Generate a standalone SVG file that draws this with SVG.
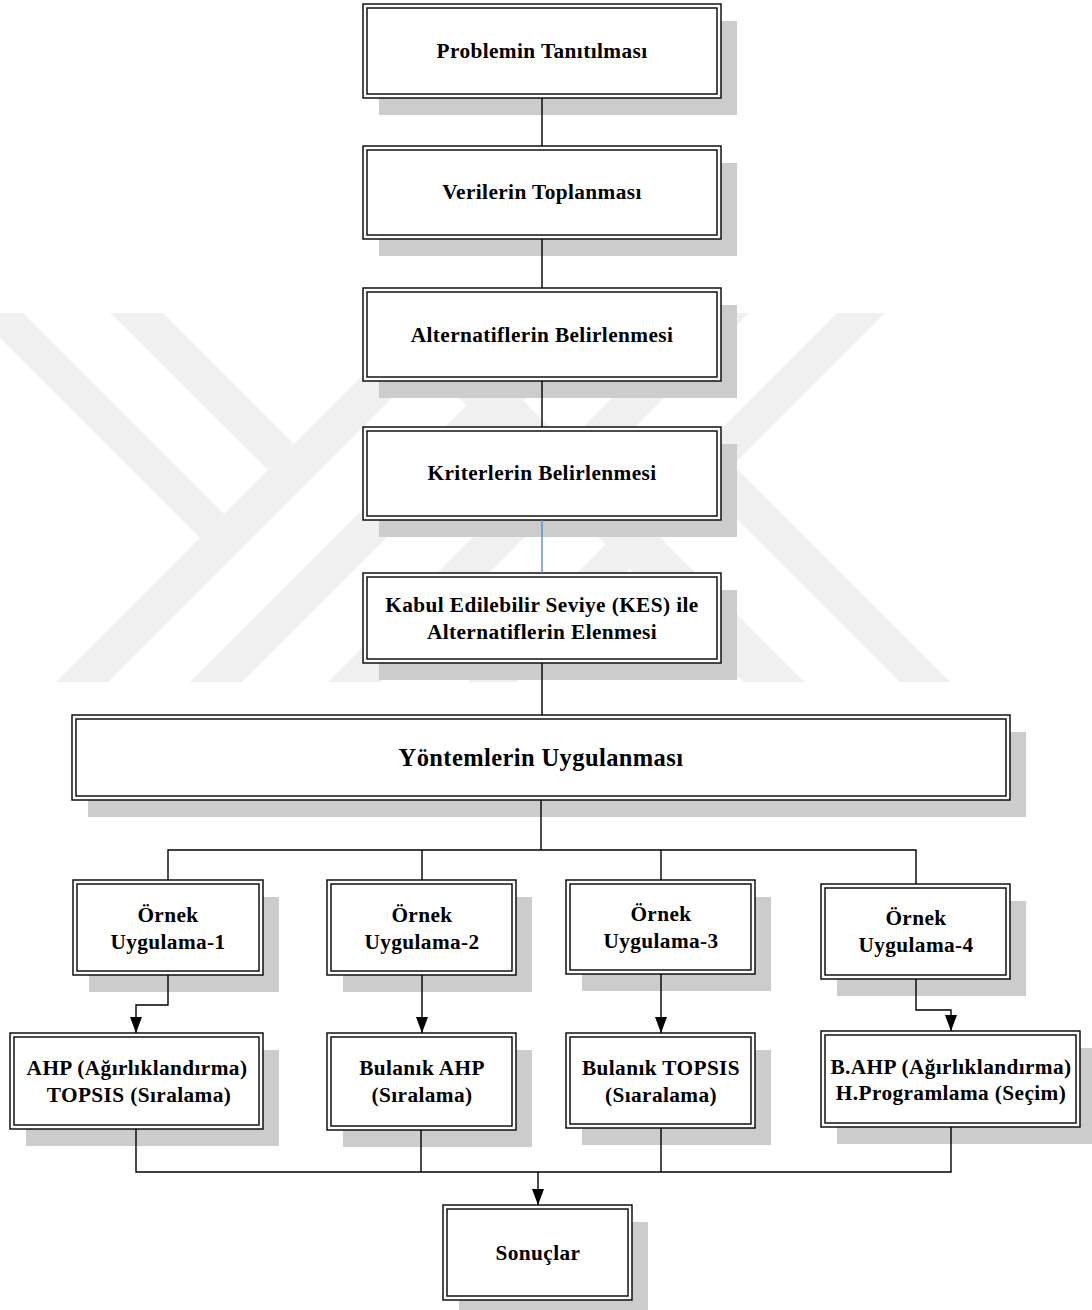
<svg xmlns="http://www.w3.org/2000/svg" width="1092" height="1310" viewBox="0 0 1092 1310">
<style>
.wm{fill:#f0f0f0}
.sh{fill:#cccccc}
.ob{fill:#ffffff;stroke:#000;stroke-width:1.4}
.ib{fill:none;stroke:#000;stroke-width:1.4}
.t{font-family:"Liberation Serif","Times New Roman",serif;font-weight:bold;font-size:21.3px;text-anchor:middle;fill:#000;letter-spacing:0.4px}
.c{fill:none;stroke:#000;stroke-width:1.4}
</style>
<defs>
<marker id="ah" viewBox="0 0 12 16" markerWidth="12" markerHeight="16" refX="6" refY="16" orient="0" markerUnits="userSpaceOnUse">
<path d="M0,0 L12,0 L6,16 z" fill="#000"/>
</marker>
</defs>
<rect width="1092" height="1310" fill="#fff"/>
<g id="watermark">
<polygon class="wm" points="-25,313 23,313 224,514 200,538"/>
<polygon class="wm" points="110,313 163,313 294,444 268,470"/>
<polygon class="wm" points="56,682 108,682 477,313 425,313"/>
<polygon class="wm" points="190,682 242,682 611,313 559,313"/>
<polygon class="wm" points="328,682 380,682 749,313 697,313"/>
<polygon class="wm" points="743,682 805,682 436,313 374,313"/>
<polygon class="wm" points="468,682 516,682 885,313 837,313"/>
<polygon class="wm" points="733,465 950,682 900,682 708,490"/>
</g>
<g id="n1">
<rect class="sh" x="379" y="21" width="358" height="94"/>
<rect class="ob" x="363" y="4" width="358" height="94"/>
<rect class="ib" x="367" y="8" width="350" height="86"/>
<text class="t" x="542" y="58">Problemin Tanıtılması</text>
</g>
<g id="n2">
<rect class="sh" x="379" y="163" width="358" height="93"/>
<rect class="ob" x="363" y="146" width="358" height="93"/>
<rect class="ib" x="367" y="150" width="350" height="85"/>
<text class="t" x="542" y="199">Verilerin Toplanması</text>
</g>
<g id="n3">
<rect class="sh" x="379" y="305" width="358" height="93"/>
<rect class="ob" x="363" y="288" width="358" height="93"/>
<rect class="ib" x="367" y="292" width="350" height="85"/>
<text class="t" x="542" y="342">Alternatiflerin Belirlenmesi</text>
</g>
<g id="n4">
<rect class="sh" x="379" y="444" width="358" height="93"/>
<rect class="ob" x="363" y="427" width="358" height="93"/>
<rect class="ib" x="367" y="431" width="350" height="85"/>
<text class="t" x="542" y="480">Kriterlerin Belirlenmesi</text>
</g>
<g id="n5">
<rect class="sh" x="379" y="590" width="358" height="90"/>
<rect class="ob" x="363" y="573" width="358" height="90"/>
<rect class="ib" x="367" y="577" width="350" height="82"/>
<text class="t" x="542" y="612">Kabul Edilebilir Seviye (KES) ile</text>
<text class="t" x="542" y="639">Alternatiflerin Elenmesi</text>
</g>
<g id="n6">
<rect class="sh" x="88" y="732" width="938" height="85"/>
<rect class="ob" x="72" y="715" width="938" height="85"/>
<rect class="ib" x="76" y="719" width="930" height="77"/>
<text class="t" x="541" y="766" style="font-size:24.5px">Yöntemlerin Uygulanması</text>
</g>
<g id="o1">
<rect class="sh" x="89" y="897" width="190" height="95"/>
<rect class="ob" x="73" y="880" width="190" height="95"/>
<rect class="ib" x="77" y="884" width="182" height="87"/>
<text class="t" x="168" y="922">Örnek</text>
<text class="t" x="168" y="949">Uygulama-1</text>
</g>
<g id="o2">
<rect class="sh" x="343" y="897" width="189" height="95"/>
<rect class="ob" x="327" y="880" width="189" height="95"/>
<rect class="ib" x="331" y="884" width="181" height="87"/>
<text class="t" x="422" y="922">Örnek</text>
<text class="t" x="422" y="949">Uygulama-2</text>
</g>
<g id="o3">
<rect class="sh" x="582" y="897" width="189" height="94"/>
<rect class="ob" x="566" y="880" width="189" height="94"/>
<rect class="ib" x="570" y="884" width="181" height="86"/>
<text class="t" x="661" y="921">Örnek</text>
<text class="t" x="661" y="948">Uygulama-3</text>
</g>
<g id="o4">
<rect class="sh" x="837" y="901" width="189" height="95"/>
<rect class="ob" x="821" y="884" width="189" height="95"/>
<rect class="ib" x="825" y="888" width="181" height="87"/>
<text class="t" x="916" y="925">Örnek</text>
<text class="t" x="916" y="952">Uygulama-4</text>
</g>
<g id="r1">
<rect class="sh" x="26" y="1050" width="253" height="96"/>
<rect class="ob" x="10" y="1033" width="253" height="96"/>
<rect class="ib" x="14" y="1037" width="245" height="88"/>
<text class="t" x="137" y="1075">AHP (Ağırlıklandırma)</text>
<text class="t" x="139" y="1102">TOPSIS (Sıralama)</text>
</g>
<g id="r2">
<rect class="sh" x="343" y="1050" width="189" height="97"/>
<rect class="ob" x="327" y="1033" width="189" height="97"/>
<rect class="ib" x="331" y="1037" width="181" height="89"/>
<text class="t" x="422" y="1075">Bulanık AHP</text>
<text class="t" x="422" y="1102">(Sıralama)</text>
</g>
<g id="r3">
<rect class="sh" x="582" y="1050" width="189" height="95"/>
<rect class="ob" x="566" y="1033" width="189" height="95"/>
<rect class="ib" x="570" y="1037" width="181" height="87"/>
<text class="t" x="661" y="1075">Bulanık TOPSIS</text>
<text class="t" x="661" y="1102">(Sıaralama)</text>
</g>
<g id="r4">
<rect class="sh" x="837" y="1048" width="259" height="96"/>
<rect class="ob" x="821" y="1031" width="259" height="96"/>
<rect class="ib" x="825" y="1035" width="251" height="88"/>
<text class="t" x="951" y="1074">B.AHP (Ağırlıklandırma)</text>
<text class="t" x="951" y="1100">H.Programlama (Seçim)</text>
</g>
<g id="s">
<rect class="sh" x="459" y="1222" width="189" height="95"/>
<rect class="ob" x="443" y="1205" width="189" height="95"/>
<rect class="ib" x="447" y="1209" width="181" height="87"/>
<text class="t" x="538" y="1260">Sonuçlar</text>
</g>
<g id="connectors">
<line class="c" x1="542" y1="98" x2="542" y2="146"/>
<line class="c" x1="542" y1="239" x2="542" y2="288"/>
<line class="c" x1="542" y1="381" x2="542" y2="427"/>
<line class="c" x1="542" y1="520" x2="542" y2="573" style="stroke:#5b8bd0"/>
<line class="c" x1="542" y1="663" x2="542" y2="715"/>
<line class="c" x1="541" y1="800" x2="541" y2="850"/>
<polyline class="c" points="168,880 168,850 916,850 916,884"/>
<line class="c" x1="422" y1="850" x2="422" y2="880"/>
<line class="c" x1="661" y1="850" x2="661" y2="880"/>
<polyline class="c" points="168,975 168,1005 136,1005 136,1033" marker-end="url(#ah)"/>
<line class="c" x1="422" y1="975" x2="422" y2="1033" marker-end="url(#ah)"/>
<line class="c" x1="661" y1="974" x2="661" y2="1033" marker-end="url(#ah)"/>
<polyline class="c" points="916,979 916,1010 951,1010 951,1031" marker-end="url(#ah)"/>
<polyline class="c" points="136,1129 136,1172 951,1172 951,1127"/>
<line class="c" x1="421" y1="1130" x2="421" y2="1172"/>
<line class="c" x1="661" y1="1128" x2="661" y2="1172"/>
<line class="c" x1="538" y1="1172" x2="538" y2="1205" marker-end="url(#ah)"/>
</g>
</svg>
